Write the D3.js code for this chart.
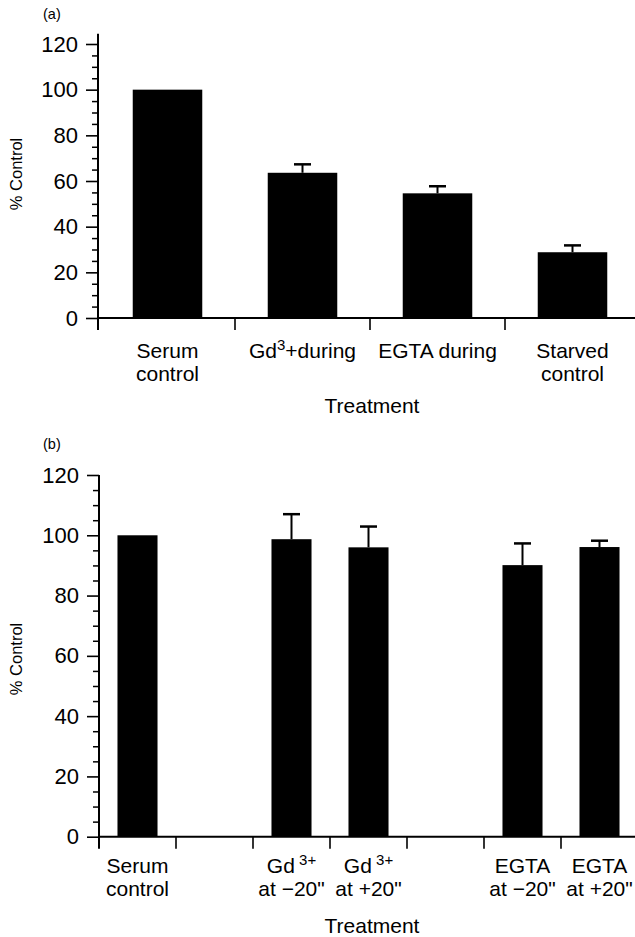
<!DOCTYPE html>
<html>
<head>
<meta charset="utf-8">
<script src="https://cdn.jsdelivr.net/npm/d3@7"></script>
<style>
  html, body { margin: 0; padding: 0; background: #fff; }
  svg { display: block; }
  text { font-family: "Liberation Sans", Arial, Helvetica, sans-serif; fill: #000; }
</style>
</head>
<body>
<svg id="chart" width="635" height="937"></svg>
<script>
// ---------- DATA ----------
// Panel (a)
const categoriesA = ["Serum control", "Gd3+ during", "EGTA during", "Starved control"];
const labelsA = [["Serum", "control"], ["Gd^3^+during"], ["EGTA during"], ["Starved", "control"]];
const valuesA = [100, 63.6, 54.6, 28.8];
const errorsA = [0, 3.7, 3.1, 3.0];

// Panel (b)
const categoriesB = ["Serum control", "gap1", "Gd3+ at -20", "Gd3+ at +20", "gap2", "EGTA at -20", "EGTA at +20"];
const labelsB = [["Serum", "control"], [], ["Gd\u2009^3+^", "at \u221220\""], ["Gd\u2009^3+^", "at +20\""], [], ["EGTA", "at \u221220\""], ["EGTA", "at +20\""]];
const valuesB = [100, null, 98.7, 96.0, null, 90.1, 96.1];
const errorsB = [0, null, 8.3, 6.9, null, 7.2, 2.1];

const yTicks = [0, 20, 40, 60, 80, 100, 120];
const yMinorTicks = [5, 10, 15, 25, 30, 35, 45, 50, 55, 65, 70, 75, 85, 90, 95, 105, 110, 115];
const panelTags = ["(a)", "(b)"];
const yTitle = "% Control";
const xTitle = "Treatment";

// ---------- DRAW ----------
const svg = d3.select("#chart");
const FONT = 21;

function drawLabel(g, str, cx, y, size, supSize) {
  const t = g.append("text").attr("x", cx).attr("y", y)
    .attr("text-anchor", "middle").attr("font-size", size);
  const parts = str.split("^");
  parts.forEach((p, i) => {
    if (!p) return;
    const sup = i % 2 === 1;
    t.append("tspan")
      .attr("font-size", sup ? supSize : size)
      .attr("dy", sup ? -8 : (i > 0 ? 8 : 0))
      .text(p);
  });
}

function panel(cfg) {
  const g = svg.append("g");
  const y = d3.scaleLinear().domain([0, 120]).range([cfg.y0, cfg.y120]);
  const p = cfg.pad;
  const x = d3.scaleBand().domain(cfg.cats).range([cfg.x0, cfg.x1])
    .paddingInner(p).paddingOuter(p / 2);
  const step = x.step();

  // bars
  cfg.cats.forEach((c, i) => {
    const v = cfg.values[i];
    if (v == null) return;
    g.append("rect")
      .attr("x", x(c)).attr("width", x.bandwidth())
      .attr("y", y(v)).attr("height", y(0) - y(v))
      .attr("fill", "#000");
    const e = cfg.errors[i];
    if (e) {
      const cx = x(c) + x.bandwidth() / 2;
      g.append("line").attr("x1", cx).attr("x2", cx)
        .attr("y1", y(v)).attr("y2", y(v + e))
        .attr("stroke", "#000").attr("stroke-width", 2);
      g.append("line").attr("x1", cx - 8.5).attr("x2", cx + 8.5)
        .attr("y1", y(v + e)).attr("y2", y(v + e))
        .attr("stroke", "#000").attr("stroke-width", 2.5);
    }
  });

  // y axis (major)
  const ax = g.append("g").attr("transform", `translate(${cfg.axisX},0)`)
    .call(d3.axisLeft(y).tickValues(yTicks).tickSize(12).tickSizeOuter(0).tickPadding(8));
  ax.select(".domain").remove();
  ax.selectAll(".tick line").attr("stroke", "#000").attr("stroke-width", 1.6);
  ax.selectAll(".tick text").attr("font-size", FONT + 1)
    .attr("font-family", "Liberation Sans, Arial, Helvetica, sans-serif").attr("fill", "#000");
  // minor
  const mx = g.append("g").attr("transform", `translate(${cfg.axisX},0)`)
    .call(d3.axisLeft(y).tickValues(yMinorTicks).tickSize(6).tickSizeOuter(0).tickFormat(""));
  mx.select(".domain").remove();
  mx.selectAll(".tick line").attr("stroke", "#000").attr("stroke-width", 1.5);

  // y axis line
  g.append("line").attr("x1", cfg.axisX).attr("x2", cfg.axisX)
    .attr("y1", y(cfg.yTop)).attr("y2", y(0) + 12)
    .attr("stroke", "#000").attr("stroke-width", 2);
  // x axis line
  g.append("line").attr("x1", cfg.axisX).attr("x2", 635)
    .attr("y1", y(0)).attr("y2", y(0))
    .attr("stroke", "#000").attr("stroke-width", 2);
  // category boundary ticks
  cfg.cats.forEach((c, i) => {
    if (i === 0) return;
    const bx = x(c) - step * p / 2;
    g.append("line").attr("x1", bx).attr("x2", bx)
      .attr("y1", y(0)).attr("y2", y(0) + 12)
      .attr("stroke", "#000").attr("stroke-width", 1.6);
  });

  // category labels
  cfg.cats.forEach((c, i) => {
    const cx = x(c) + x.bandwidth() / 2;
    cfg.labels[i].forEach((line, k) => {
      drawLabel(g, line, cx, cfg.labelY + k * cfg.lineH, FONT, 15);
    });
  });

  // axis titles
  g.append("text").attr("x", cfg.titleX).attr("y", cfg.titleY)
    .attr("text-anchor", "middle").attr("font-size", FONT).text(xTitle);
  g.append("text")
    .attr("transform", `translate(${cfg.yTitleX},${cfg.yTitleY}) rotate(-90)`)
    .attr("text-anchor", "middle").attr("font-size", 16.5).text(yTitle);
  g.append("text").attr("x", 43).attr("y", cfg.tagY)
    .attr("font-size", 14.5).text(cfg.tag);
}

panel({
  cats: categoriesA, labels: labelsA, values: valuesA, errors: errorsA,
  y0: 318, y120: 44, yTop: 124.5, x0: 100, x1: 640, pad: 0.485, axisX: 98,
  labelY: 358, lineH: 22.5, titleX: 372, titleY: 413,
  yTitleX: 22, yTitleY: 174, tagY: 19, tag: panelTags[0]
});

panel({
  cats: categoriesB, labels: labelsB, values: valuesB, errors: errorsB,
  y0: 836.7, y120: 475, yTop: 120, x0: 99, x1: 638, pad: 0.48, axisX: 99,
  labelY: 873, lineH: 22.5, titleX: 372, titleY: 933,
  yTitleX: 22, yTitleY: 659, tagY: 449, tag: panelTags[1]
});
</script>
</body>
</html>
